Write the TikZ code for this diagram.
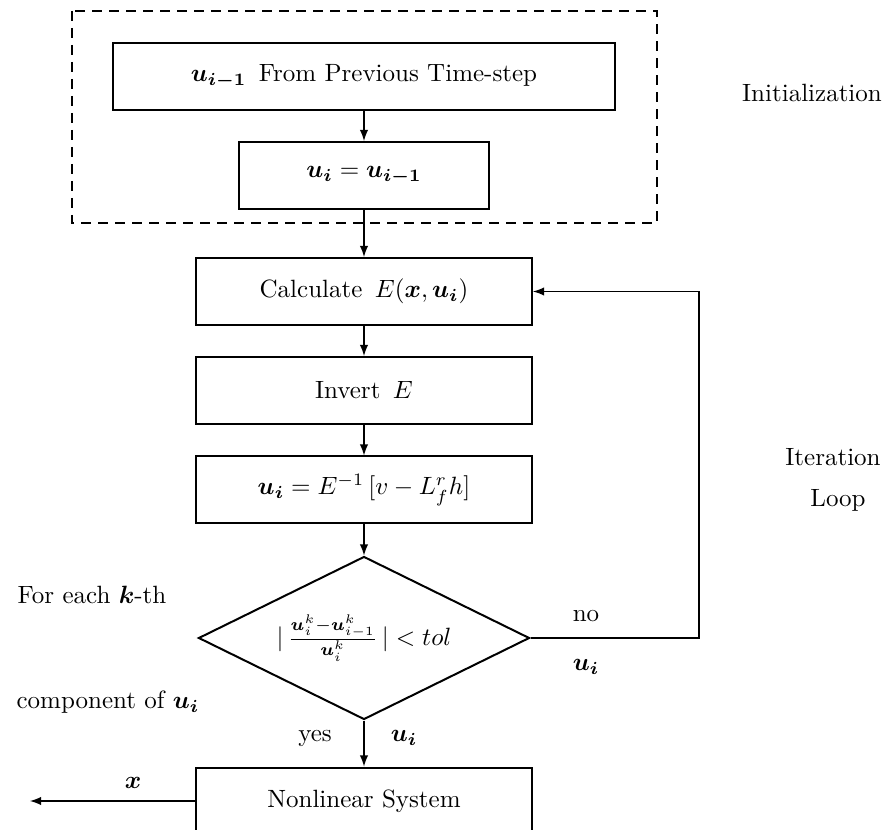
\documentclass[tikz,border=0pt]{standalone}
\usepackage{amsmath,bm}
\usetikzlibrary{arrows,shapes.geometric}

\begin{document}
\begin{tikzpicture}[x=0.4pt,y=-0.4pt,
  blk/.style={draw,rectangle,minimum width=134.4pt,minimum height=26.8pt,inner sep=0pt,line width=.8pt},
  dec/.style={draw,diamond,aspect=2,minimum width=132.4pt,minimum height=65.2pt,inner sep=0pt,line width=.8pt},
  grp/.style={line width=.8pt,dash pattern=on 4pt off 2.8pt},
  flow/.style={->,>=latex,line width=.55pt},
  lbl/.style={inner sep=1pt}]
  \useasboundingbox (0,0) rectangle (892,830);

  % initialization group
  \draw[grp] (72,11) rectangle (657,223);
  \node[blk,minimum width=200.8pt] (prev) at (364,76.5) {$\bm{u_{i-1}}$\enspace From Previous Time-step};
  \node[blk,minimum width=100pt] (copy) at (364,175.5) {$\bm{u_i} = \bm{u_{i-1}}$};

  % iteration loop
  \node[blk] (calc) at (364,291.5) {Calculate\enspace $E(\bm{x},\bm{u_i})$};
  \node[blk] (inv) at (364,390.5) {Invert\enspace $E$};
  \node[blk] (upd) at (364,490) {$\bm{u_i} = E^{-1}\,[v - L_f^r h]$};
  \node[dec] (test) at (364,638) {$|\,\frac{\bm{u}_i^k-\bm{u}_{i-1}^k}{\bm{u}_i^k}\,| < tol$};
  \node[blk] (sys) at (364,801) {Nonlinear System};

  \coordinate (fb) at (699,638);
  \coordinate (out) at (30,801);

  \draw[flow] (prev) -- (copy);
  \draw[flow] (copy) -- (calc);
  \draw[flow] (calc) -- (inv);
  \draw[flow] (inv) -- (upd);
  \draw[flow] (upd) -- (test);
  \draw[flow] (test) -- (sys);
  \draw[flow] (test.east) -- (fb) |- (calc.east);
  \draw[flow] (sys.west) -- (out);

  % labels
  \node[lbl] (no) at (586,616) {no};
  \node[lbl] (ufb) at (586,667) {$\bm{u_i}$};
  \node[lbl] (yes) at (315,738) {yes};
  \node[lbl] (uin) at (404,738) {$\bm{u_i}$};
  \node[lbl] (xout) at (133,783) {$\bm{x}$};

  \node[lbl] (ini) at (812,93) {Initialization};
  \node[lbl] (it1) at (833,457) {Iteration};
  \node[lbl] (it2) at (838,500) {Loop};
  \node[lbl] (each) at (92,595) {For each $\bm{k}$-th};
  \node[lbl] (comp) at (108,702) {component of $\bm{u_i}$};
\end{tikzpicture}
\end{document}
